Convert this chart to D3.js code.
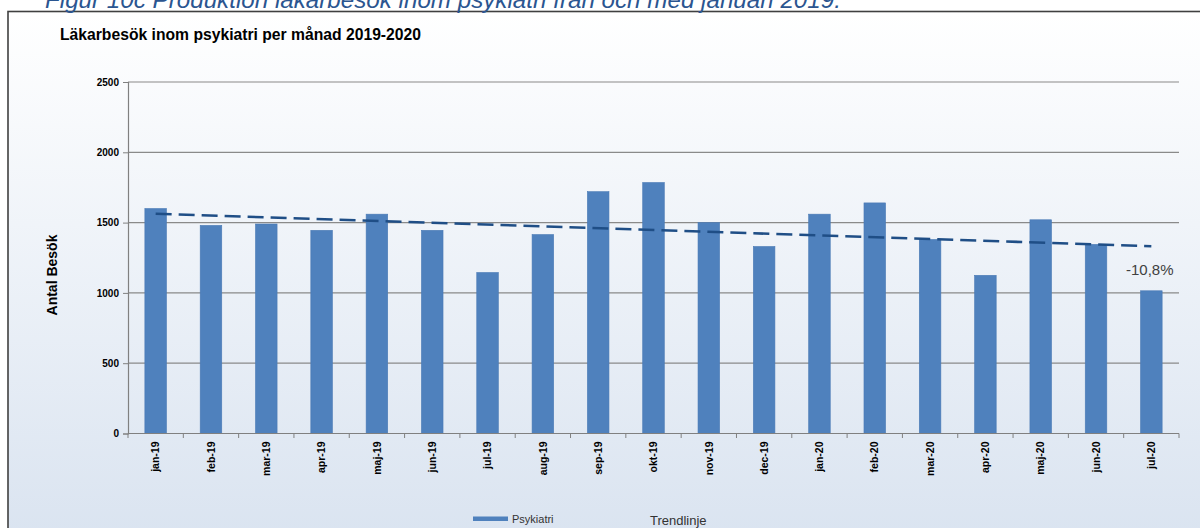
<!DOCTYPE html>
<html><head><meta charset="utf-8">
<script src="https://cdn.jsdelivr.net/npm/d3@7"></script>
<style>html,body{margin:0;padding:0;background:#fff;overflow:hidden}svg{display:block}</style>
</head><body>
<svg id="c" width="1200" height="528"></svg>
<script>
const months = ["jan-19","feb-19","mar-19","apr-19","maj-19","jun-19","jul-19","aug-19","sep-19","okt-19","nov-19","dec-19","jan-20","feb-20","mar-20","apr-20","maj-20","jun-20","jul-20"];
const psykiatri = [1600,1480,1490,1445,1560,1445,1145,1415,1720,1785,1500,1330,1560,1640,1380,1125,1520,1345,1015];
const yTicks = [0,500,1000,1500,2000,2500];
const caption = "Figur 10c Produktion läkarbesök inom psykiatri från och med januari 2019.";
const title = "Läkarbesök inom psykiatri per månad 2019-2020";
const yTitle = "Antal Besök";
const changeLabel = "-10,8%";
const legendLabels = ["Psykiatri","Trendlinje"];

const svg = d3.select("#c");
const defs = svg.append("defs");
const g = defs.append("linearGradient").attr("id","bg").attr("x1",0).attr("y1",0).attr("x2",0).attr("y2",1);
g.append("stop").attr("offset","0%").attr("stop-color","#ffffff");
g.append("stop").attr("offset","100%").attr("stop-color","#d9e3f0");

// frame
svg.append("rect").attr("x",8).attr("y",11.5).attr("width",1300).attr("height",540)
  .attr("fill","url(#bg)").attr("stroke","#404040").attr("stroke-width",1.6);

// caption (cut off at top, as in the source)
svg.append("text").attr("x",45).attr("y",8).text(caption)
  .attr("font-family","Liberation Sans, Arial, sans-serif").attr("font-style","italic")
  .attr("font-size",24.2).attr("fill","#2b5590");

svg.append("text").attr("x",60).attr("y",40).text(title)
  .attr("font-family","Liberation Sans, Arial, sans-serif").attr("font-weight","bold")
  .attr("font-size",15.7).attr("fill","#000");

const pLeft = 128, pRight = 1179, pTop = 82, pBottom = 433.5;
const x = d3.scaleBand().domain(months).range([pLeft,pRight]).padding(0);
const y = d3.scaleLinear().domain([0,2500]).range([pBottom,pTop]);

// gridlines
svg.append("g").selectAll("line").data(yTicks.filter(d=>d>0)).join("line")
  .attr("x1",pLeft).attr("x2",pRight).attr("y1",d=>y(d)).attr("y2",d=>y(d))
  .attr("stroke","#8a8a8a").attr("stroke-width",1.2);

// bars
const bw = x.bandwidth()*0.39;
svg.append("g").selectAll("rect").data(months).join("rect")
  .attr("x",(d)=>x(d)+(x.bandwidth()-bw)/2)
  .attr("y",(d,i)=>y(psykiatri[i]))
  .attr("width",bw)
  .attr("height",(d,i)=>y(0)-y(psykiatri[i]))
  .attr("fill","#4f81bd").attr("stroke","#4a7ab5").attr("stroke-width",0.6);

// y axis
const ya = svg.append("g").attr("transform",`translate(${pLeft},0)`)
  .call(d3.axisLeft(y).tickValues(yTicks).tickFormat(d3.format("d")).tickSize(5).tickPadding(4));
ya.select(".domain").attr("stroke","#808080").attr("stroke-width",1.2);
ya.selectAll(".tick line").attr("stroke","#808080");
ya.selectAll("text").attr("font-family","Liberation Sans, Arial, sans-serif")
  .attr("font-weight","bold").attr("font-size",10).attr("fill","#000");

// x axis baseline and boundary ticks
svg.append("line").attr("x1",pLeft).attr("x2",pRight).attr("y1",pBottom).attr("y2",pBottom)
  .attr("stroke","#808080").attr("stroke-width",1.2);
const bounds = months.map(d=>x(d)).concat([pRight]);
svg.append("g").selectAll("line").data(bounds).join("line")
  .attr("x1",d=>d).attr("x2",d=>d).attr("y1",pBottom).attr("y2",pBottom+4.5)
  .attr("stroke","#808080").attr("stroke-width",1);

const xa = svg.append("g").attr("transform",`translate(0,${pBottom})`)
  .call(d3.axisBottom(x).tickSize(0));
xa.select(".domain").remove();
xa.selectAll("text")
  .attr("font-family","Liberation Sans, Arial, sans-serif").attr("font-weight","bold")
  .attr("font-size",10.5).attr("fill","#000")
  .attr("text-anchor","end").attr("transform","rotate(-90)")
  .attr("x",-8).attr("y",0).attr("dy","0.35em");

// trend line (least-squares fit of the series)
const n = psykiatri.length;
const mx = d3.mean(d3.range(n)), my = d3.mean(psykiatri);
const slope = d3.sum(psykiatri,(v,i)=>(i-mx)*(v-my))/d3.sum(d3.range(n),i=>(i-mx)*(i-mx));
const trend = [0,n-1].map(i=>({m:months[i], v: my + slope*(i-mx)}));
svg.append("path")
  .attr("d", d3.line().x(d=>x(d.m)+x.bandwidth()/2).y(d=>y(d.v))(trend))
  .attr("fill","none").attr("stroke","#1f4e86").attr("stroke-width",2.6)
  .attr("stroke-dasharray","16,7");

// change label
svg.append("text").attr("x",1126).attr("y",275).text(changeLabel)
  .attr("font-family","Liberation Sans, Arial, sans-serif").attr("font-size",15).attr("fill","#404040");

// y title
svg.append("text").attr("transform","translate(57,275) rotate(-90)").attr("text-anchor","middle")
  .text(yTitle).attr("font-family","Liberation Sans, Arial, sans-serif")
  .attr("font-weight","bold").attr("font-size",14).attr("fill","#000");

// legend
svg.append("rect").attr("x",473).attr("y",516.5).attr("width",35).attr("height",4.5).attr("fill","#4f81bd");
svg.append("text").attr("x",512).attr("y",523).text(legendLabels[0])
  .attr("font-family","Liberation Sans, Arial, sans-serif").attr("font-size",11).attr("fill","#333");
svg.append("text").attr("x",650).attr("y",524.5).text(legendLabels[1])
  .attr("font-family","Liberation Sans, Arial, sans-serif").attr("font-size",13).attr("fill","#333");
</script>
</body></html>
